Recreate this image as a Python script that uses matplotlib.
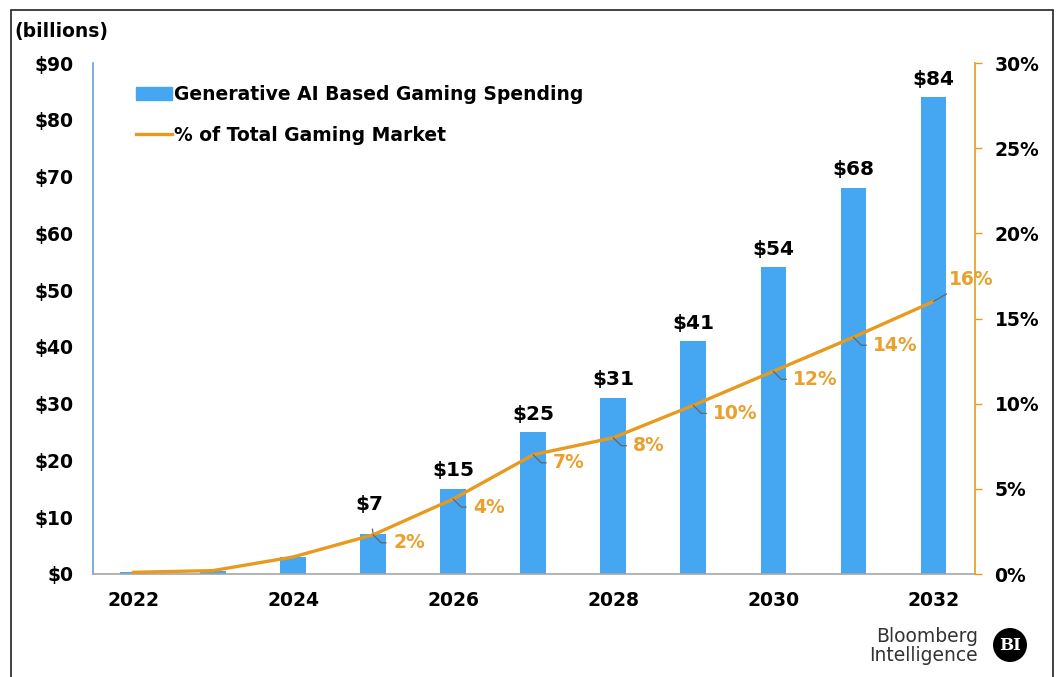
import matplotlib.pyplot as plt
from matplotlib.patches import Rectangle, Circle, Patch
from matplotlib.lines import Line2D
from matplotlib.ticker import FuncFormatter

years = [2022, 2023, 2024, 2025, 2026, 2027, 2028, 2029, 2030, 2031, 2032]
spend = [0.3, 0.5, 3, 7, 15, 25, 31, 41, 54, 68, 84]          # $ billions
share = [0.1, 0.2, 1.0, 2.3, 4.4, 7.0, 8.0, 9.9, 11.9, 13.9, 16.0]  # % of market
first_label = 3  # values labelled from 2025 onwards

BLUE = '#45A6F2'
ORANGE = '#E89A1E'
ORANGE_TXT = '#E9A02C'
GREY = '#666666'

plt.rcParams['font.family'] = 'DejaVu Sans'
plt.rcParams['font.weight'] = 'bold'

fig = plt.figure(figsize=(10.62, 6.77), dpi=100)
W, H = 1062, 677
ax = fig.add_axes([93 / W, 1 - 574 / H, (975 - 93) / W, (574 - 63) / H])
ax2 = ax.twinx()

x = list(range(len(years)))
ax.bar(x, spend, width=0.32, color=BLUE, zorder=2)
ax2.plot(x, share, color=ORANGE, lw=2.4, solid_capstyle='round', zorder=3)

ax.set_xlim(-0.5, 10.52)
ax.set_ylim(0, 90)
ax2.set_ylim(0, 30)
ax.set_yticks(range(0, 91, 10))
ax2.set_yticks(range(0, 31, 5))
ax.yaxis.set_major_formatter(FuncFormatter(lambda v, p: '$%d' % v))
ax2.yaxis.set_major_formatter(FuncFormatter(lambda v, p: '%d%%' % v))
ax.set_xticks(x[::2])
ax.set_xticklabels([str(y) for y in years[::2]])

fs = 13.5
ax.tick_params(axis='y', length=0, pad=14, labelsize=fs)
ax.tick_params(axis='x', length=0, pad=12, labelsize=fs)
ax2.tick_params(axis='y', length=5, width=1, color=ORANGE, pad=9, labelsize=fs)

for a in (ax, ax2):
    a.spines['top'].set_visible(False)
ax.spines['right'].set_visible(False)
ax2.spines['left'].set_visible(False)
ax2.spines['bottom'].set_visible(False)
ax.spines['left'].set_color('#6A9FCF')
ax.spines['bottom'].set_color('#A6A6A6')
ax2.spines['right'].set_color(ORANGE)
for s in ('left', 'bottom'):
    ax.spines[s].set_linewidth(1.2)
ax2.spines['right'].set_linewidth(1.2)

# bar value labels
bfs = 14.5
for i in range(first_label, len(x)):
    if i == first_label:
        ax.annotate('$%d' % spend[i], xy=(x[i], spend[i]), xytext=(-4, 30),
                    textcoords='offset pixels', ha='center', va='center',
                    fontsize=bfs, color='black',
                    arrowprops=dict(arrowstyle='-', color=GREY, lw=0.9,
                                    shrinkA=9, shrinkB=0))
    else:
        ax.annotate('$%d' % spend[i], xy=(x[i], spend[i]), xytext=(0, 18),
                    textcoords='offset pixels', ha='center', va='center',
                    fontsize=bfs, color='black')

# share labels with leader lines
for i in range(first_label, len(x)):
    if i == len(x) - 1:
        off = (16, 22)
        conn = 'arc3'
    else:
        off = (20, -8)
        conn = 'angle,angleA=0,angleB=-45,rad=0'
    ax2.annotate('%.0f%%' % share[i], xy=(x[i], share[i]), xytext=off,
                 textcoords='offset pixels', ha='left', va='center',
                 fontsize=fs, color=ORANGE_TXT,
                 arrowprops=dict(arrowstyle='-', color=GREY, lw=0.9,
                                 shrinkA=3, shrinkB=0,
                                 connectionstyle=conn))

handles = [Patch(color=BLUE), Line2D([], [], color=ORANGE, lw=2.4)]
labels = ['Generative AI Based Gaming Spending', '% of Total Gaming Market']
ax2.legend(handles, labels, loc='upper left', bbox_to_anchor=(0.03, 0.99),
           frameon=False, fontsize=fs, handlelength=1.9, handleheight=0.7,
           handletextpad=0.1, labelspacing=1.15)

fig.text(14 / W, 1 - 32 / H, '(billions)', ha='left', va='center',
         fontsize=fs, color='black')

# branding, bottom right
fig.text(978 / W, 1 - 646 / H, 'Bloomberg\nIntelligence', ha='right',
         va='center', fontsize=13.5, fontweight='normal', color='#333333',
         linespacing=1.0)
fig.patches.append(Circle((1010, H - 645), 17, transform=None,
                          facecolor='black', edgecolor='none'))
fig.text(1010 / W, 1 - 645 / H, 'BI', ha='center', va='center',
         fontsize=12, color='white', family='DejaVu Serif')

# outer frame
fig.patches.append(Rectangle((11 / W, -0.05), (1053 - 11) / W, 1 - 10 / H + 0.05,
                             transform=fig.transFigure, fill=False,
                             edgecolor='#222222', lw=1.2))

fig.savefig('out.png', dpi=100)
